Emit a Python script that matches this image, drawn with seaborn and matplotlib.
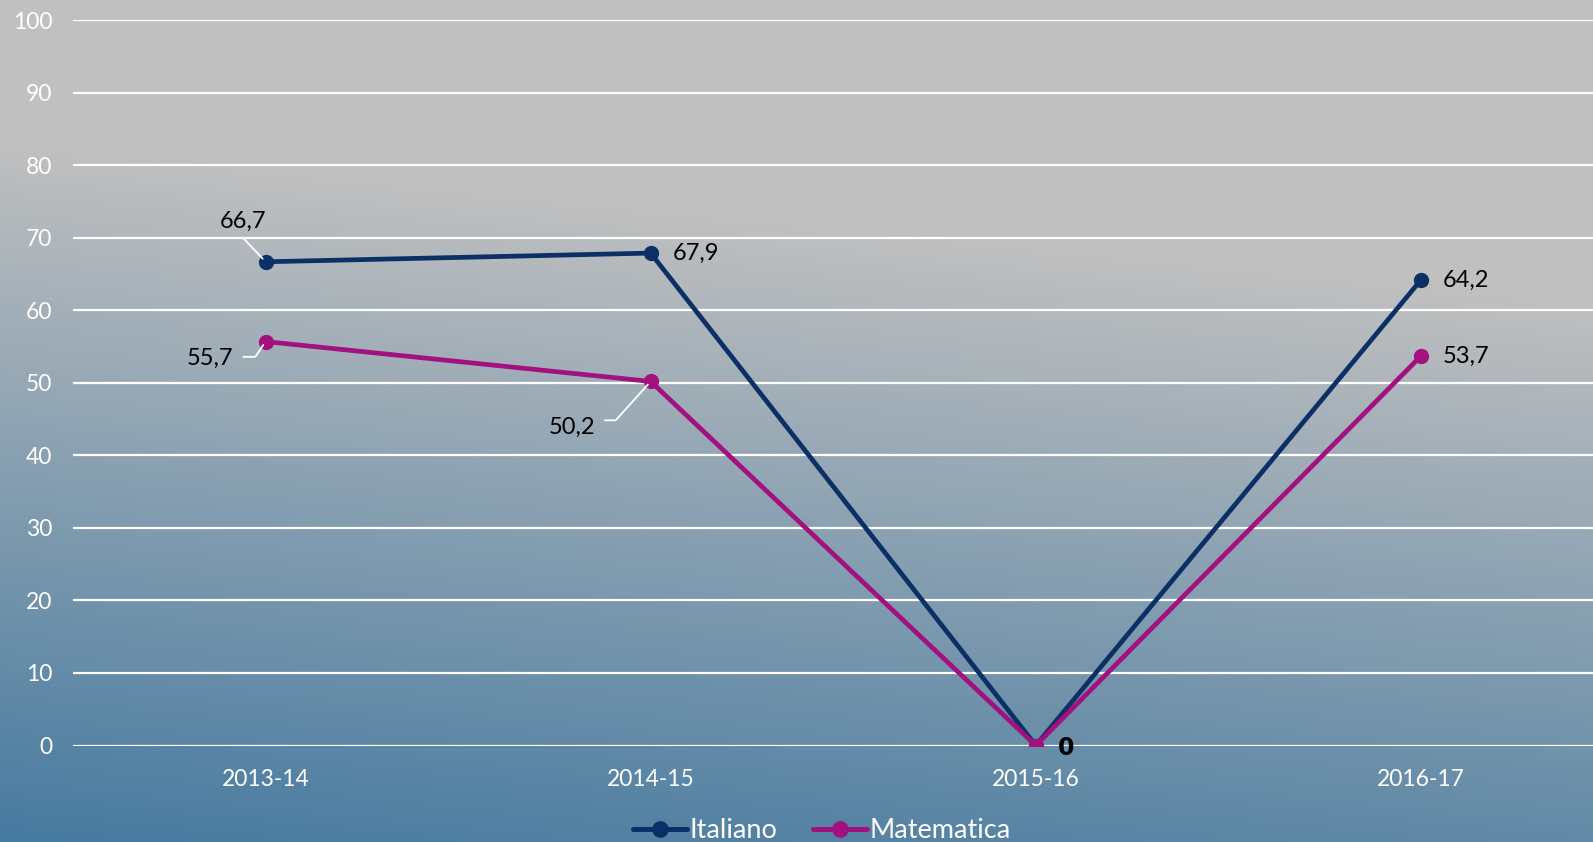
import numpy as np
import pandas as pd
import matplotlib
matplotlib.use("Agg")
import matplotlib.pyplot as plt
import seaborn as sns
from matplotlib.lines import Line2D

categories = ["2013-14", "2014-15", "2015-16", "2016-17"]
italiano = [66.7, 67.9, 0.0, 64.2]
matematica = [55.7, 50.2, 0.0, 53.7]
series_names = ["Italiano", "Matematica"]
colors = {"Italiano": "#0b3065", "Matematica": "#a2117f"}
y_ticks = list(range(0, 101, 10))

df = pd.DataFrame({
    "anno": categories * 2,
    "valore": italiano + matematica,
    "serie": [series_names[0]] * 4 + [series_names[1]] * 4,
})

sns.set_theme(style="white")
plt.rcParams["font.family"] = ["Lato", "DejaVu Sans"]

W, H = 1593, 842
fig = plt.figure(figsize=(W / 100, H / 100), dpi=100)

# gradient background
yy, xx = np.mgrid[0:H, 0:W].astype(float)
s = yy + 0.10 * (W - xx)
t = np.clip((s - 300) / (1001 - 300), 0, 1)
c0 = np.array([192, 192, 192]) / 255.0
c1 = np.array([70, 122, 160]) / 255.0
img = c0[None, None, :] * (1 - t[..., None]) + c1[None, None, :] * t[..., None]
fig.figimage(img, xo=0, yo=0, origin="upper", zorder=0)
fig.patch.set_alpha(0)

ax = fig.add_axes([73 / W, 1 - 745.5 / H, 1 - 73 / W, (745.5 - 20.3) / H])
ax.set_zorder(2)
ax.patch.set_alpha(0)

sns.lineplot(data=df, x="anno", y="valore", hue="serie", palette=colors,
             marker="o", markersize=11, markeredgewidth=0, linewidth=3.4,
             sort=False, ax=ax, legend=False, zorder=3)

ax.set_ylim(0, 100)
ax.set_xlim(-0.5, 3 + (1593 - 1421) / 385.0)
ax.set_yticks(y_ticks)
ax.set_yticklabels([str(v) for v in y_ticks])
ax.yaxis.grid(True, color="white", linewidth=1.6, zorder=1)
ax.xaxis.grid(False)
ax.set_axisbelow(True)
for sp in ax.spines.values():
    sp.set_visible(False)
ax.tick_params(axis="both", length=0, labelsize=16.5, colors="white")
ax.tick_params(axis="y", pad=15)
ax.tick_params(axis="x", pad=17)
ax.set_xlabel("")
ax.set_ylabel("")


def fmt(v):
    return "0" if v == 0 else f"{v:.1f}".replace(".", ",")


lab_kw = dict(fontsize=17, color="black", textcoords="offset points", zorder=5)

# Italiano labels
ax.annotate(fmt(italiano[0]), xy=(0, italiano[0]), xytext=(-16, 29), ha="center", va="center", **lab_kw)
ax.annotate("", xy=(0, italiano[0]), xytext=(-16, 17), textcoords="offset points",
            arrowprops=dict(arrowstyle="-", color="white", lw=1.3, shrinkA=0, shrinkB=3))
ax.annotate(fmt(italiano[1]), xy=(1, italiano[1]), xytext=(16, 0), ha="left", va="center", **lab_kw)
ax.annotate(fmt(italiano[2]), xy=(2, italiano[2]), xytext=(16, -2), ha="left", va="center",
            fontweight="bold", family=["DejaVu Sans"], **lab_kw)
ax.annotate(fmt(italiano[3]), xy=(3, italiano[3]), xytext=(16, 0), ha="left", va="center", **lab_kw)

# Matematica labels
ax.annotate(fmt(matematica[0]), xy=(0, matematica[0]), xytext=(-23, -12), ha="right", va="center", **lab_kw)
ax.annotate("", xy=(0, matematica[0]), xytext=(-16, -11), textcoords="offset points",
            arrowprops=dict(arrowstyle="-", color="white", lw=1.3, shrinkA=0, shrinkB=3,
                            connectionstyle="angle,angleA=0,angleB=56,rad=0"))
ax.annotate(fmt(matematica[1]), xy=(1, matematica[1]), xytext=(-40, -33), ha="right", va="center", **lab_kw)
ax.annotate("", xy=(1, matematica[1]), xytext=(-33, -28), textcoords="offset points",
            arrowprops=dict(arrowstyle="-", color="white", lw=1.3, shrinkA=0, shrinkB=3,
                            connectionstyle="angle,angleA=0,angleB=48,rad=0"))
ax.annotate(fmt(matematica[3]), xy=(3, matematica[3]), xytext=(16, 0), ha="left", va="center", **lab_kw)

# legend
handles = [Line2D([], [], color=colors[n], marker="o", markersize=12, markeredgewidth=0, linewidth=3.6)
           for n in series_names]
leg = fig.legend(handles, series_names, loc="center", bbox_to_anchor=(822 / W, 1 - 831 / H),
                 ncol=2, frameon=False, fontsize=19.5, labelcolor="white",
                 handlelength=2.0, handletextpad=0.1, columnspacing=1.3)

fig.savefig("out.png", dpi=100)
